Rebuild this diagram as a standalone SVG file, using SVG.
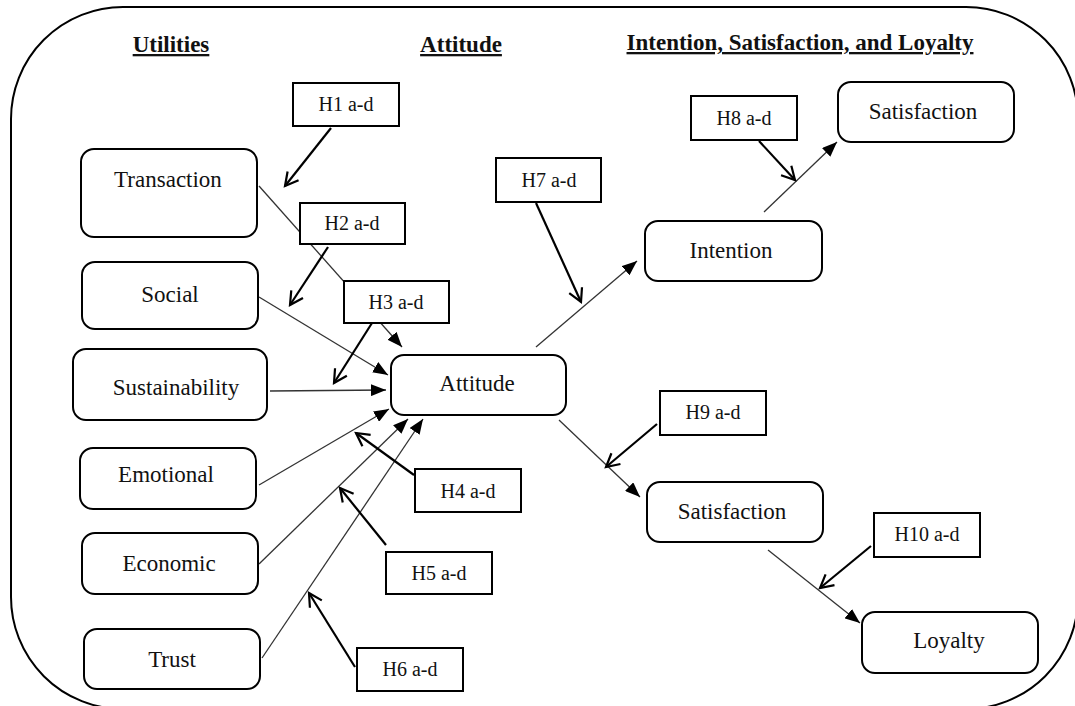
<svg xmlns="http://www.w3.org/2000/svg" width="1075" height="706" viewBox="0 0 1075 706">
<style>
.frame{fill:none;stroke:#000;stroke-width:2}
.node rect.r{fill:#fff;stroke:#000;stroke-width:2}
.hyp rect{fill:#fff;stroke:#000;stroke-width:2}
.nt{font-family:"Liberation Serif","Times New Roman",serif;font-size:23px;fill:#111;text-anchor:middle}
.ht{font-family:"Liberation Serif","Times New Roman",serif;font-size:20px;fill:#111;text-anchor:middle}
.tt{font-family:"Liberation Serif","Times New Roman",serif;font-size:23px;font-weight:bold;fill:#111;text-anchor:middle;text-decoration:underline}
.c{stroke:#333;stroke-width:1.3;fill:none;marker-end:url(#af)}
.h{stroke:#000;stroke-width:2.2;fill:none;marker-end:url(#ao)}
</style>
<defs>
<marker id="af" markerUnits="userSpaceOnUse" markerWidth="16" markerHeight="12" refX="15" refY="6" orient="auto" viewBox="0 0 16 12">
<path d="M0,0 L15,6 L0,12 z" fill="#000"/>
</marker>
<marker id="ao" markerUnits="userSpaceOnUse" markerWidth="16" markerHeight="16" refX="14" refY="8" orient="auto" viewBox="0 0 16 16" overflow="visible">
<path d="M1,1 L14,8 L1,15" fill="none" stroke="#000" stroke-width="2.2"/>
</marker>
</defs>
<rect class="frame" x="11" y="7" width="1067" height="702" rx="112" ry="112"/>
<g id="titles">
<text class="tt" x="171" y="52">Utilities</text>
<text class="tt" x="461" y="52">Attitude</text>
<text class="tt" x="800" y="50">Intention, Satisfaction, and Loyalty</text>
</g>
<g id="connectors">
<line class="c" x1="259" y1="186" x2="402" y2="347"/>
<line class="c" x1="259" y1="297" x2="388" y2="375"/>
<line class="c" x1="270" y1="391" x2="386" y2="390"/>
<line class="c" x1="259" y1="485" x2="389" y2="409"/>
<line class="c" x1="259" y1="564" x2="408" y2="419"/>
<line class="c" x1="262" y1="658" x2="423" y2="419"/>
<line class="c" x1="536" y1="347" x2="637" y2="261"/>
<line class="c" x1="764" y1="212" x2="837" y2="142"/>
<line class="c" x1="559" y1="420" x2="640" y2="497"/>
<line class="c" x1="768" y1="550" x2="860" y2="623"/>
<line class="h" x1="331" y1="128" x2="285" y2="186"/>
<line class="h" x1="328" y1="247" x2="290" y2="305"/>
<line class="h" x1="372" y1="323" x2="334" y2="383"/>
<line class="h" x1="414" y1="475" x2="356" y2="433"/>
<line class="h" x1="386" y1="545" x2="340" y2="488"/>
<line class="h" x1="355" y1="667" x2="309" y2="593"/>
<line class="h" x1="536" y1="203" x2="581" y2="302"/>
<line class="h" x1="759" y1="141" x2="795" y2="180"/>
<line class="h" x1="657" y1="424" x2="606" y2="467"/>
<line class="h" x1="871" y1="546" x2="820" y2="588"/>
</g>
<g id="node-transaction" class="node"><rect class="r" x="81" y="149" width="176" height="88" rx="13"/><text class="nt" x="168" y="187">Transaction</text></g>
<g id="node-social" class="node"><rect class="r" x="82" y="262" width="176" height="67" rx="13"/><text class="nt" x="170" y="302">Social</text></g>
<g id="node-sustainability" class="node"><rect class="r" x="73" y="349" width="194" height="71" rx="13"/><text class="nt" x="176" y="395">Sustainability</text></g>
<g id="node-emotional" class="node"><rect class="r" x="80" y="448" width="176" height="61" rx="13"/><text class="nt" x="166" y="482">Emotional</text></g>
<g id="node-economic" class="node"><rect class="r" x="82" y="533" width="176" height="61" rx="13"/><text class="nt" x="169" y="571">Economic</text></g>
<g id="node-trust" class="node"><rect class="r" x="84" y="629" width="176" height="60" rx="13"/><text class="nt" x="172" y="667">Trust</text></g>
<g id="node-attitude" class="node"><rect class="r" x="391" y="355" width="175" height="60" rx="13"/><text class="nt" x="477" y="391">Attitude</text></g>
<g id="node-intention" class="node"><rect class="r" x="645" y="221" width="177" height="60" rx="13"/><text class="nt" x="731" y="258">Intention</text></g>
<g id="node-satisfaction-top" class="node"><rect class="r" x="838" y="82" width="176" height="60" rx="13"/><text class="nt" x="923" y="119">Satisfaction</text></g>
<g id="node-satisfaction" class="node"><rect class="r" x="647" y="482" width="176" height="60" rx="13"/><text class="nt" x="732" y="519">Satisfaction</text></g>
<g id="node-loyalty" class="node"><rect class="r" x="862" y="612" width="176" height="61" rx="13"/><text class="nt" x="949" y="648">Loyalty</text></g>
<g id="hyp-h1" class="hyp"><rect x="293" y="83" width="106" height="43"/><text class="ht" x="346" y="111">H1 a-d</text></g>
<g id="hyp-h2" class="hyp"><rect x="300" y="203" width="105" height="41"/><text class="ht" x="352" y="230">H2 a-d</text></g>
<g id="hyp-h3" class="hyp"><rect x="344" y="281" width="105" height="42"/><text class="ht" x="396" y="309">H3 a-d</text></g>
<g id="hyp-h4" class="hyp"><rect x="415" y="469" width="106" height="43"/><text class="ht" x="468" y="498">H4 a-d</text></g>
<g id="hyp-h5" class="hyp"><rect x="386" y="552" width="106" height="42"/><text class="ht" x="439" y="580">H5 a-d</text></g>
<g id="hyp-h6" class="hyp"><rect x="357" y="648" width="106" height="43"/><text class="ht" x="410" y="676">H6 a-d</text></g>
<g id="hyp-h7" class="hyp"><rect x="496" y="158" width="105" height="44"/><text class="ht" x="549" y="187">H7 a-d</text></g>
<g id="hyp-h8" class="hyp"><rect x="691" y="96" width="106" height="44"/><text class="ht" x="744" y="125">H8 a-d</text></g>
<g id="hyp-h9" class="hyp"><rect x="660" y="391" width="106" height="44"/><text class="ht" x="713" y="419">H9 a-d</text></g>
<g id="hyp-h10" class="hyp"><rect x="874" y="513" width="106" height="44"/><text class="ht" x="927" y="541">H10 a-d</text></g>
</svg>
